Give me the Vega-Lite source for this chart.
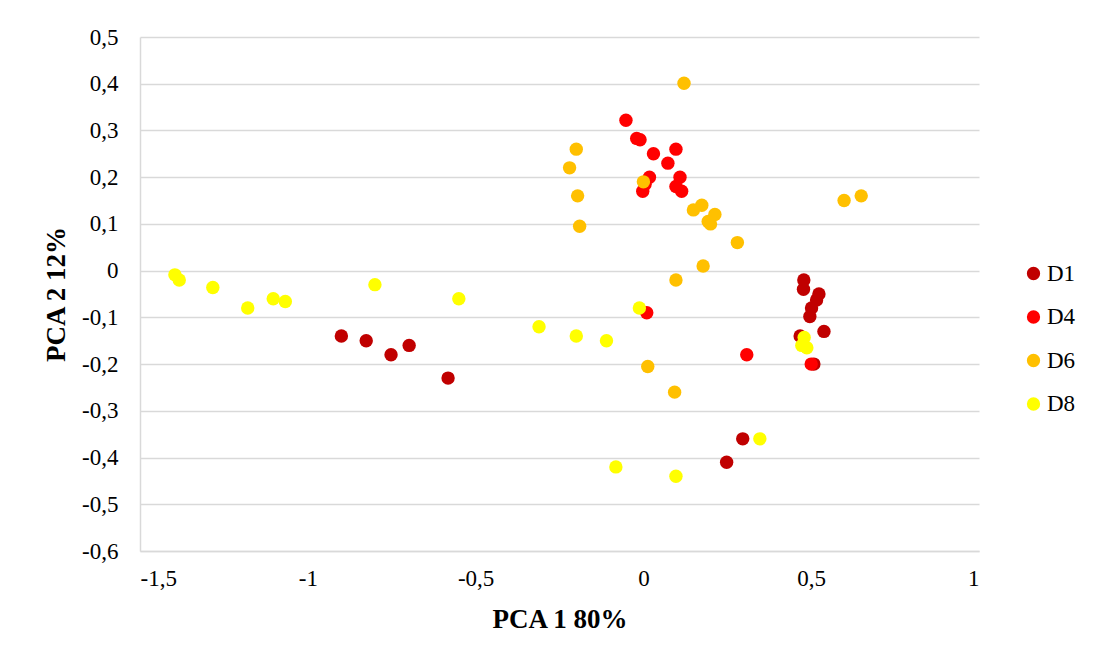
{
  "$schema": "https://vega.github.io/schema/vega-lite/v6.json",
  "width": 839,
  "height": 514,
  "autosize": {"type": "none"},
  "padding": {"left": 140, "top": 37, "right": 118, "bottom": 112},
  "background": "white",
  "config": {
    "locale": {"number": {"decimal": ",", "thousands": ".", "grouping": [3], "currency": ["", ""], "minus": "-"}},
    "view": {"stroke": null},
    "font": "Liberation Serif"
  },
  "data": {"values": [
    {"g": "D1", "x": -0.9, "y": -0.14},
    {"g": "D1", "x": -0.826, "y": -0.15},
    {"g": "D1", "x": -0.752, "y": -0.18},
    {"g": "D1", "x": -0.698, "y": -0.16},
    {"g": "D1", "x": -0.582, "y": -0.23},
    {"g": "D1", "x": 0.248, "y": -0.41},
    {"g": "D1", "x": 0.296, "y": -0.36},
    {"g": "D1", "x": 0.478, "y": -0.02},
    {"g": "D1", "x": 0.477, "y": -0.04},
    {"g": "D1", "x": 0.523, "y": -0.05},
    {"g": "D1", "x": 0.516, "y": -0.063},
    {"g": "D1", "x": 0.501, "y": -0.08},
    {"g": "D1", "x": 0.496, "y": -0.098},
    {"g": "D1", "x": 0.538, "y": -0.13},
    {"g": "D1", "x": 0.467, "y": -0.14},
    {"g": "D1", "x": 0.508, "y": -0.2},
    {"g": "D4", "x": -0.052, "y": 0.322},
    {"g": "D4", "x": -0.02, "y": 0.283},
    {"g": "D4", "x": -0.01, "y": 0.28},
    {"g": "D4", "x": 0.03, "y": 0.25},
    {"g": "D4", "x": 0.097, "y": 0.26},
    {"g": "D4", "x": 0.073, "y": 0.23},
    {"g": "D4", "x": 0.018, "y": 0.2},
    {"g": "D4", "x": 0.109, "y": 0.2},
    {"g": "D4", "x": -0.002, "y": 0.17},
    {"g": "D4", "x": 0.005, "y": 0.185},
    {"g": "D4", "x": 0.097, "y": 0.18},
    {"g": "D4", "x": 0.114, "y": 0.17},
    {"g": "D4", "x": 0.01, "y": -0.09},
    {"g": "D4", "x": 0.308, "y": -0.18},
    {"g": "D4", "x": 0.5, "y": -0.2},
    {"g": "D6", "x": 0.121, "y": 0.401},
    {"g": "D6", "x": -0.2, "y": 0.26},
    {"g": "D6", "x": -0.22, "y": 0.22},
    {"g": "D6", "x": -0.196, "y": 0.16},
    {"g": "D6", "x": -0.19, "y": 0.095},
    {"g": "D6", "x": 0.149, "y": 0.13},
    {"g": "D6", "x": 0.174, "y": 0.14},
    {"g": "D6", "x": 0.193, "y": 0.105},
    {"g": "D6", "x": 0.213, "y": 0.12},
    {"g": "D6", "x": 0.2, "y": 0.1},
    {"g": "D6", "x": 0.28, "y": 0.06},
    {"g": "D6", "x": 0.598, "y": 0.15},
    {"g": "D6", "x": 0.649, "y": 0.16},
    {"g": "D6", "x": 0.178, "y": 0.01},
    {"g": "D6", "x": 0.097, "y": -0.02},
    {"g": "D6", "x": 0.013, "y": -0.205},
    {"g": "D6", "x": 0.093, "y": -0.26},
    {"g": "D6", "x": 0.0, "y": 0.19},
    {"g": "D8", "x": -1.396, "y": -0.009},
    {"g": "D8", "x": -1.383, "y": -0.02},
    {"g": "D8", "x": -1.283, "y": -0.036},
    {"g": "D8", "x": -1.179, "y": -0.08},
    {"g": "D8", "x": -1.103, "y": -0.06},
    {"g": "D8", "x": -1.067, "y": -0.066},
    {"g": "D8", "x": -0.8, "y": -0.03},
    {"g": "D8", "x": -0.55, "y": -0.06},
    {"g": "D8", "x": -0.311, "y": -0.12},
    {"g": "D8", "x": -0.2, "y": -0.14},
    {"g": "D8", "x": -0.11, "y": -0.15},
    {"g": "D8", "x": -0.082, "y": -0.42},
    {"g": "D8", "x": 0.097, "y": -0.44},
    {"g": "D8", "x": -0.012, "y": -0.08},
    {"g": "D8", "x": 0.347, "y": -0.36},
    {"g": "D8", "x": 0.479, "y": -0.143},
    {"g": "D8", "x": 0.472, "y": -0.16},
    {"g": "D8", "x": 0.487, "y": -0.165}
  ]},
  "mark": {"type": "circle", "size": 180, "opacity": 1},
  "encoding": {
    "x": {
      "field": "x", "type": "quantitative",
      "scale": {"domain": [-1.5, 1], "nice": false, "zero": false},
      "axis": {
        "values": [-1.5, -1, -0.5, 0, 0.5, 1],
        "format": "~g",
        "grid": false,
        "ticks": false,
        "domainColor": "#D9D9D9",
        "domainWidth": 1.5,
        "labelFont": "Liberation Serif",
        "labelFontSize": 23,
        "labelColor": "#000000",
        "labelPadding": 16,
        "title": "PCA 1 80%",
        "titleFont": "Liberation Serif",
        "titleFontSize": 27,
        "titleFontWeight": "bold",
        "titleColor": "#000000",
        "titlePadding": 16
      }
    },
    "y": {
      "field": "y", "type": "quantitative",
      "scale": {"domain": [-0.6, 0.5], "nice": false, "zero": false},
      "axis": {
        "values": [-0.6, -0.5, -0.4, -0.3, -0.2, -0.1, 0, 0.1, 0.2, 0.3, 0.4, 0.5],
        "format": "~g",
        "grid": true,
        "gridColor": "#D9D9D9",
        "gridWidth": 1.5,
        "ticks": false,
        "domainColor": "#D9D9D9",
        "domainWidth": 1.5,
        "labelFont": "Liberation Serif",
        "labelFontSize": 23,
        "labelColor": "#000000",
        "labelPadding": 22,
        "title": "PCA 2 12%",
        "titleFont": "Liberation Serif",
        "titleFontSize": 27,
        "titleFontWeight": "bold",
        "titleColor": "#000000",
        "titlePadding": 11
      }
    },
    "color": {
      "field": "g", "type": "nominal",
      "scale": {"domain": ["D1", "D4", "D6", "D8"], "range": ["#C00000", "#FF0000", "#FFC000", "#FFFF00"]},
      "legend": {
        "title": null,
        "orient": "none",
        "legendX": 882,
        "legendY": 225,
        "symbolType": "circle",
        "symbolSize": 177,
        "symbolOpacity": 1,
        "labelFont": "Liberation Serif",
        "labelFontSize": 23,
        "labelColor": "#000000",
        "labelOffset": 2,
        "rowPadding": 19.5
      }
    }
  }
}
